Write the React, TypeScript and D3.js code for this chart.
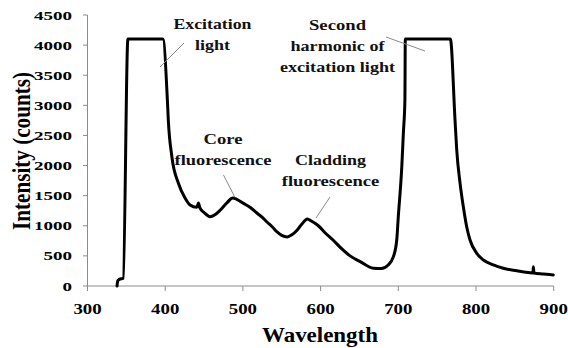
import React from "react";
import * as d3 from "d3";

const wavelength = [
  338, 339, 341, 346, 352, 397, 402.8, 404, 408.6, 417, 425.7, 432, 440.7, 442.8, 444.5,
  450, 458, 465, 471, 480, 487, 492, 500, 510, 518, 525, 531, 538, 544, 550, 557, 563, 570,
  576, 583, 588, 596, 606, 616, 627, 638, 651, 668, 678, 687, 693.7, 698, 700, 704.5,
  706.5, 708.5, 709, 767, 773, 775.2, 779.5, 783.7, 788, 792.3, 801, 809.5, 822.3, 835.2,
  852.4, 869.5, 873.3, 873.8, 874.6, 886.6, 899.5,
];
const intensity = [
  0, 90, 110, 130, 4100, 4100, 3089, 2757, 2147, 1705, 1456, 1345, 1307, 1380, 1300,
  1220, 1151, 1190, 1262, 1390, 1461, 1440, 1378, 1300, 1212, 1140, 1063, 980, 897, 840, 814,
  850, 930, 1030, 1113, 1080, 1013, 880, 764, 620, 500, 404, 294, 290, 350, 487, 764, 1151,
  1981, 2536, 3089, 4100, 4100, 2757, 2258, 1705, 1317, 985, 764, 543, 432, 349, 294, 254,
  221, 215, 320, 215, 199, 183,
];

const xTicks = [300, 400, 500, 600, 700, 800, 900];
const yTicks = [0, 500, 1000, 1500, 2000, 2500, 3000, 3500, 4000, 4500];

const xTitle = "Wavelength";
const yTitle = "Intensity (counts)";

type Note = { lines: string[]; widths: number[]; cx: number; base: number; from: [number, number]; to: [number, number] };
const notes: Note[] = [
  { lines: ["Excitation", "light"], widths: [78, 35], cx: 212.5, base: 28.5, from: [184, 43], to: [160, 67] },
  { lines: ["Second", "harmonic of", "excitation light"], widths: [57, 94, 115], cx: 337.5, base: 29.5, from: [386, 37], to: [425, 51] },
  { lines: ["Core", "fluorescence"], widths: [39, 97], cx: 223, base: 143.5, from: [223.5, 175], to: [235, 197.5] },
  { lines: ["Cladding", "fluorescence"], widths: [71, 97.5], cx: 330.5, base: 165, from: [330, 197], to: [316, 218] },
];

const FONT = "'Times New Roman', 'Liberation Serif', serif";

export default function App() {
  const x = d3.scaleLinear().domain([300, 900]).range([87.5, 553.7]);
  const y = d3.scaleLinear().domain([0, 4500]).range([286, 15]);
  const pts: [number, number][] = wavelength.map((w, i) => [w, intensity[i]]);
  const line = d3
    .line<[number, number]>()
    .x((d) => x(d[0]))
    .y((d) => y(d[1]))
    .curve(d3.curveMonotoneX);
  const axisColor = "#8c8c8c";
  return (
    <svg
      width={568}
      height={348}
      style={{ position: "absolute", left: 0, top: 0, background: "#fff", fontFamily: FONT, fontWeight: 700 }}
    >
      <line x1={x(300)} x2={x(300)} y1={y(4500)} y2={y(0)} stroke={axisColor} strokeWidth={1} />
      <line x1={x(300)} x2={x(900)} y1={y(0)} y2={y(0)} stroke={axisColor} strokeWidth={1} />
      {yTicks.map((t) => (
        <g key={"y" + t}>
          <line x1={x(300) - 4.5} x2={x(300)} y1={y(t)} y2={y(t)} stroke={axisColor} />
          <text
            x={72}
            y={y(t) + 4.6}
            textAnchor="end"
            fontSize={13.5}
            textLength={String(t).length * 9.5}
            lengthAdjust="spacingAndGlyphs"
            fill="#000"
          >
            {t}
          </text>
        </g>
      ))}
      {xTicks.map((t) => (
        <g key={"x" + t}>
          <line x1={x(t)} x2={x(t)} y1={y(0)} y2={y(0) + 5} stroke={axisColor} />
          <text
            x={x(t)}
            y={313.5}
            textAnchor="middle"
            fontSize={14.5}
            textLength={String(t).length * 9.4}
            lengthAdjust="spacingAndGlyphs"
            fill="#000"
          >
            {t}
          </text>
        </g>
      ))}
      <text
        x={320}
        y={341.5}
        textAnchor="middle"
        fontSize={21.5}
        textLength={116}
        lengthAdjust="spacingAndGlyphs"
        fill="#000"
      >
        {xTitle}
      </text>
      <g transform="translate(29.5,151) scale(1.15,1) rotate(-90)">
        <text x={0} y={0} textAnchor="middle" fontSize={21} textLength={158} lengthAdjust="spacingAndGlyphs" fill="#000">
          {yTitle}
        </text>
      </g>
      <path d={line(pts) || ""} fill="none" stroke="#000" strokeWidth={3} strokeLinejoin="round" strokeLinecap="round" />
      {notes.map((n, i) => (
        <g key={"n" + i}>
          <line x1={n.from[0]} y1={n.from[1]} x2={n.to[0]} y2={n.to[1]} stroke="#8a8a8a" strokeWidth={1} />
          {n.lines.map((s, j) => (
            <text
              key={j}
              x={n.cx}
              y={n.base + j * 21}
              textAnchor="middle"
              fontSize={15}
              textLength={n.widths[j]}
              lengthAdjust="spacingAndGlyphs"
              fill="#111"
            >
              {s}
            </text>
          ))}
        </g>
      ))}
    </svg>
  );
}
